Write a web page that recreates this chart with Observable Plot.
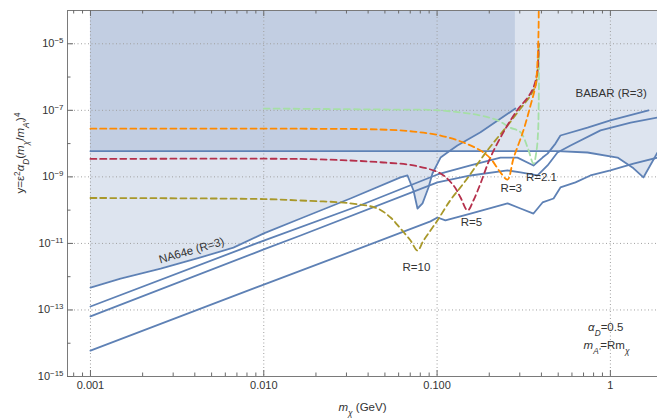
<!DOCTYPE html>
<html><head><meta charset="utf-8">
<script src="https://cdn.jsdelivr.net/npm/d3@7"></script>
<script src="https://cdn.jsdelivr.net/npm/@observablehq/plot@0.6"></script>
<style>body{margin:0;background:#fff}#chart svg{display:block}</style>
</head><body><div id="chart"></div>
<script>
// ---- data (m_chi in GeV, y dimensionless) ----
const na64eX = [0.001, 0.00149, 0.00254, 0.00432, 0.00668, 0.01, 0.0163, 0.0316, 0.0615, 0.0675, 0.0731, 0.0771, 0.0824, 0.0892, 0.094, 0.1047, 0.1148, 0.131, 0.178, 0.283];
const na64eY = [4.7e-13, 8.8e-13, 1.76e-12, 3.8e-12, 7.5e-12, 2.0e-11, 5.6e-11, 2.24e-10, 9.6e-10, 1.10e-9, 3.9e-10, 1.12e-10, 1.6e-10, 4.8e-10, 1.26e-9, 3.8e-9, 5.4e-9, 8.8e-9, 2.2e-8, 1.13e-7];

const babarX = [0.001, 0.495, 0.738, 1.10, 1.36, 1.55, 1.87];
const babarY = [5.9e-9, 5.9e-9, 5.4e-9, 3.8e-9, 1.8e-9, 9.6e-10, 5.4e-9];

const projAX = [0.001, 0.01, 0.0361, 0.1005, 0.156, 0.232, 0.291, 0.36, 0.406, 0.434, 0.482, 0.515, 0.738, 1.0, 1.66];
const projAY = [1.27e-13, 1.22e-11, 1.4e-10, 1.18e-9, 2.2e-9, 3.8e-9, 3.8e-9, 2.2e-9, 3.8e-9, 5.0e-9, 1.0e-8, 1.75e-8, 3.0e-8, 5.0e-8, 1.0e-7];

const projBX = [0.001, 0.01, 0.0163, 0.1005, 0.156, 0.255, 0.303, 0.38, 0.434, 0.495, 0.589, 0.877, 1.31, 1.87];
const projBY = [6.4e-14, 6.6e-12, 1.73e-11, 6.8e-10, 1.10e-9, 1.56e-9, 1.36e-9, 1.10e-9, 2.2e-9, 5.4e-9, 8.8e-9, 2.5e-8, 4.3e-8, 6.1e-8];

const projCX = [0.001, 0.01, 0.0243, 0.0916, 0.1005, 0.1117, 0.156, 0.255, 0.303, 0.36, 0.406, 0.47, 0.515, 0.629, 0.767, 1.0, 1.36, 1.87];
const projCY = [6.0e-15, 5.8e-13, 3.3e-12, 4.6e-11, 6.0e-11, 4.9e-11, 7.9e-11, 1.6e-10, 1.12e-10, 7.9e-11, 1.7e-10, 2.24e-10, 4.8e-10, 6.8e-10, 1.10e-9, 1.56e-9, 2.5e-9, 3.8e-9];

const r3X = [0.001, 0.0163, 0.0471, 0.0731, 0.1047, 0.142, 0.178, 0.203, 0.232, 0.255, 0.276, 0.315, 0.346, 0.370, 0.380, 0.385, 0.386];
const r3Y = [2.8e-8, 2.8e-8, 2.65e-8, 2.3e-8, 1.75e-8, 1.08e-8, 6.2e-9, 3.6e-9, 1.36e-9, 8.3e-10, 3.6e-9, 2.5e-8, 1.4e-7, 5.6e-7, 3.2e-6, 2.5e-5, 1e-4];

const r5X = [0.001, 0.0163, 0.0316, 0.0491, 0.0731, 0.1047, 0.1245, 0.1365, 0.150, 0.162, 0.178, 0.203, 0.248, 0.295, 0.333, 0.360, 0.380, 0.385];
const r5Y = [3.45e-9, 3.45e-9, 3.1e-9, 2.7e-9, 2.2e-9, 1.26e-9, 5.5e-10, 2.4e-10, 9.7e-11, 1.95e-10, 6.3e-10, 3.8e-9, 2.8e-8, 1.13e-7, 2.4e-7, 4.9e-7, 1.57e-6, 1.0e-5];

const r10X = [0.001, 0.01, 0.0163, 0.0316, 0.0453, 0.0539, 0.0615, 0.0703, 0.0771, 0.0835, 0.0916, 0.1005, 0.119, 0.142, 0.195, 0.255, 0.303, 0.346, 0.370, 0.380, 0.385];
const r10Y = [2.32e-10, 2.15e-10, 1.95e-10, 1.6e-10, 1.12e-10, 6.0e-11, 2.8e-11, 1.22e-11, 6.1e-12, 1.22e-11, 2.44e-11, 4.9e-11, 1.95e-10, 6.3e-10, 6.2e-9, 3.5e-8, 1.13e-7, 2.8e-7, 5.6e-7, 1.57e-6, 1.0e-5];

const r21X = [0.01, 0.0471, 0.102, 0.178, 0.223, 0.265, 0.303, 0.333, 0.360, 0.375, 0.383, 0.385, 0.3867, 0.388];
const r21Y = [1.13e-7, 1.06e-7, 1.0e-7, 7.0e-8, 5.0e-8, 3.0e-8, 2.2e-8, 7.6e-9, 2.5e-9, 6.2e-9, 2.5e-8, 8.0e-8, 3.9e-7, 1e-5];

// ticks
const xTickValues = [0.001, 0.01, 0.1, 1];
const xTickLabels = ["0.001", "0.010", "0.100", "1"];
const xMinorTicks = [0.0008, 0.0009, 0.002, 0.003, 0.004, 0.005, 0.006, 0.007, 0.008, 0.009, 0.02, 0.03, 0.04, 0.05, 0.06, 0.07, 0.08, 0.09, 0.2, 0.3, 0.4, 0.5, 0.6, 0.7, 0.8, 0.9];
const yTickValues = [1e-15, 1e-13, 1e-11, 1e-9, 1e-7, 1e-5];
const yTickLabels = ["10^{−15}", "10^{−13}", "10^{−11}", "10^{−9}", "10^{−7}", "10^{−5}"];
const yMinorTicks = [1e-14, 1e-12, 1e-10, 1e-8, 1e-6];
const gridX = [0.001, 0.01, 0.1, 1];
const gridY = [1e-13, 1e-11, 1e-9, 1e-7, 1e-5];

// annotations
const curveLabels = ["R=10", "R=5", "R=3", "R=2.1", "BABAR (R=3)"];
const curveLabelX = [0.076, 0.158, 0.268, 0.40, 1.01];
const curveLabelY = [1.89e-12, 4.25e-11, 4.5e-10, 9.6e-10, 3.2e-7];

const xDomain = [0.000737, 1.87];
const yDomain = [1e-15, 1e-4];

const W = 657, H = 420, mL = 67, mR = 0, mT = 10, mB = 44;
const frameW = W - mL - mR, frameH = H - mT - mB;

const blue = "#5e81b5";
const frameColor = "#7a7a7a";
const tickColor = "#6a6a6a";
const textColor = "#333";

const pts = (xs, ys) => xs.map((x, i) => ({x, y: ys[i]}));
const xLab = new Map(xTickValues.map((v, i) => [v, xTickLabels[i]]));
const yLab = new Map(yTickValues.map((v, i) => [v, yTickLabels[i]]));

const solid = (xs, ys) => Plot.line(pts(xs, ys), {x: "x", y: "y", stroke: blue, strokeWidth: 1.8, clip: true});
const dashed = (xs, ys, c) => Plot.line(pts(xs, ys), {x: "x", y: "y", stroke: c, strokeWidth: 1.8, strokeDasharray: "6,4", curve: "catmull-rom", clip: true});
// inward tick marks (lengths in pixels)
const xTicksAt = (vals, len, edge) => Plot.tickX(vals, {x: d => d, stroke: tickColor, strokeWidth: 1, [edge === "bottom" ? "insetTop" : "insetBottom"]: frameH - len});
const leftTickEnd = len => xDomain[0] * Math.pow(xDomain[1] / xDomain[0], len / frameW);
const yTicksAt = (vals, len) => Plot.ruleY(vals, {y: d => d, x1: xDomain[0], x2: leftTickEnd(len), stroke: tickColor, strokeWidth: 1});

const chart = Plot.plot({
  width: W, height: H,
  marginLeft: mL, marginRight: mR, marginTop: mT, marginBottom: mB,
  style: {fontFamily: "'Liberation Sans', Arial, sans-serif", fontSize: "11px", background: "#fff", color: textColor},
  x: {type: "log", domain: xDomain, axis: null},
  y: {type: "log", domain: yDomain, axis: null},
  marks: [
    Plot.areaY(pts(babarX, babarY), {x: "x", y1: "y", y2: yDomain[1], fill: blue, fillOpacity: 0.21, clip: true}),
    Plot.areaY(pts(na64eX, na64eY), {x: "x", y1: "y", y2: yDomain[1], fill: blue, fillOpacity: 0.21, clip: true}),
    Plot.ruleX(gridX, {stroke: "#a0a0a0", strokeWidth: 1, strokeDasharray: "1,2.5"}),
    Plot.ruleY(gridY, {stroke: "#a0a0a0", strokeWidth: 1, strokeDasharray: "1,2.5"}),
    solid(babarX, babarY),
    solid(na64eX, na64eY),
    solid(projAX, projAY),
    solid(projBX, projBY),
    solid(projCX, projCY),
    dashed(r21X, r21Y, "#a6dfa6"),
    dashed(r10X, r10Y, "#a8982a"),
    dashed(r5X, r5Y, "#b5304c"),
    dashed(r3X, r3Y, "#ff8a00"),
    // frame
    Plot.ruleX([xDomain[0]], {stroke: frameColor}),
    Plot.ruleY([yDomain[0]], {stroke: frameColor}),
    Plot.ruleY([yDomain[1]], {stroke: frameColor}),
    // inward ticks
    xTicksAt(xTickValues, 6, "bottom"),
    xTicksAt(xMinorTicks, 3.5, "bottom"),
    xTicksAt(xTickValues, 6, "top"),
    xTicksAt(xMinorTicks, 3.5, "top"),
    yTicksAt(yTickValues, 6),
    yTicksAt(yMinorTicks, 3.5),
    // tick labels
    Plot.axisX(xTickValues, {anchor: "bottom", tickSize: 0, tickPadding: 5, tickFormat: d => xLab.get(d), fill: textColor, label: null}),
    Plot.axisY(yTickValues, {anchor: "left", tickSize: 0, tickPadding: 4, tickFormat: d => yLab.get(d), fill: textColor, label: null}),
    // annotations
    Plot.text(curveLabels.map((t, i) => ({t, x: curveLabelX[i], y: curveLabelY[i]})), {x: "x", y: "y", text: "t", fill: textColor, fontSize: 11.5}),
    Plot.text([{t: "NA64e (R=3)", x: 0.00383, y: 6.1e-12}], {x: "x", y: "y", text: "t", rotate: -16, fill: textColor, fontSize: 11.5}),
    Plot.text([{t: "*α*_{*D*}=0.5", x: 0.94, y: 2.97e-14}], {x: "x", y: "y", text: "t", fill: textColor, fontSize: 11.5}),
    Plot.text([{t: "*m*_{*A'*}=Rm_{*χ*}", x: 0.95, y: 8.5e-15}], {x: "x", y: "y", text: "t", fill: textColor, fontSize: 11.5}),
    // axis titles
    Plot.text(["*m*_{*χ*} (GeV)"], {frameAnchor: "bottom", dy: 34, fill: textColor, fontSize: 11.5}),
    Plot.text(["y=ε^{2}*α*_{*D*}(*m*_{*χ*}/*m*_{*A'*})^{4}"], {frameAnchor: "left", dx: -47, rotate: -90, fill: textColor, fontSize: 11.5})
  ]
});

// rich text: ^{..} superscript, _{..} subscript, *..* italic
const NS = "http://www.w3.org/2000/svg";
function richify(el) {
  const s = el.textContent;
  if (!/[\^_*]/.test(s)) return;
  el.textContent = "";
  const re = /(\^\{[^}]*\}|_\{[^}]*\}|\*[^*]*\*|[^\^_*]+)/g;
  let m;
  while ((m = re.exec(s))) {
    let tok = m[1], shift = null, italic = false;
    if (tok.startsWith("^{")) { shift = "super"; tok = tok.slice(2, -1); }
    else if (tok.startsWith("_{")) { shift = "sub"; tok = tok.slice(2, -1); }
    const im = tok.match(/^\*(.*)\*$/);
    if (im) { italic = true; tok = im[1]; }
    const t = document.createElementNS(NS, "tspan");
    t.textContent = tok;
    if (italic) t.setAttribute("font-style", "italic");
    if (shift) { t.setAttribute("baseline-shift", shift); t.setAttribute("font-size", "72%"); }
    el.appendChild(t);
  }
}
chart.querySelectorAll("text").forEach(richify);
document.getElementById("chart").appendChild(chart);
</script>
</body></html>
